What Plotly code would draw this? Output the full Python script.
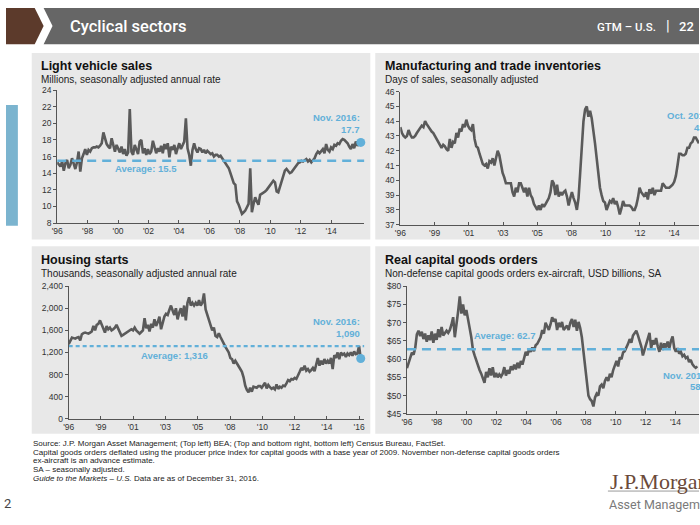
import numpy as np
import plotly.graph_objects as go

FONT = "Liberation Sans, Arial, sans-serif"
HEAD = "Roboto, Liberation Sans, sans-serif"
LINE_C = "#5a5a5a"
BLUE = "#62b0d9"

# ---------------- data ----------------
# Light vehicle sales, millions SAAR (sampled ~monthly, Jan '96 -> Nov '16)
lv_values = [15.3, 15.0, 14.8, 15.4, 14.3, 15.2, 15.6, 14.6, 15.0, 15.8, 15.1, 14.5, 15.3, 16.6, 14.2, 15.8,
             16.3, 16.9, 16.2, 16.8, 16.6, 17.0, 17.1, 17.1, 17.2, 17.1, 17.3, 17.6, 18.9, 18.2, 17.5, 17.2,
             17.0, 18.2, 17.3, 16.6, 17.4, 16.9, 16.5, 17.2, 16.3, 16.9, 16.1, 16.5, 21.7, 16.6, 16.2, 17.4,
             16.8, 16.3, 17.8, 18.0, 16.4, 17.0, 16.2, 16.9, 16.3, 16.6, 17.9, 17.2, 16.4, 17.0, 16.6, 17.3,
             16.4, 17.5, 16.9, 17.6, 15.9, 17.2, 16.8, 17.4, 16.3, 17.0, 17.6, 16.9, 17.3, 17.8, 20.6, 17.0,
             16.2, 14.9, 16.8, 17.6, 16.9, 16.5, 17.0, 16.9, 16.5, 16.8, 16.4, 16.7, 16.5, 16.3, 16.4, 16.0,
             16.2, 16.2, 16.0, 16.1, 15.8, 15.5, 15.2, 14.9, 14.6, 14.0, 13.5, 12.8, 12.6, 10.6, 10.2, 9.6,
             9.1, 9.3, 9.5, 9.9, 10.3, 14.6, 9.3, 10.3, 11.1, 10.6, 10.2, 11.4, 11.5, 11.6, 11.8, 12.0,
             12.3, 12.6, 12.9, 13.1, 12.9, 11.8, 11.7, 12.4, 12.9, 13.6, 14.3, 14.5, 14.3, 14.0, 14.1, 14.4,
             14.6, 14.9, 15.2, 15.3, 15.5, 15.4, 15.6, 15.7, 15.4, 15.6, 15.3, 15.5, 15.8, 16.3, 16.6, 16.4,
             16.7, 16.9, 16.4, 17.5, 16.8, 16.6, 17.1, 16.9, 17.4, 17.3, 17.6, 17.5, 17.9, 18.1, 18.0, 17.8,
             17.6, 17.2, 16.9, 17.5, 17.0, 17.8, 17.3, 17.6, 17.7]
lv_average = 15.5
lv_ticks = ["'96", "'98", "'00", "'02", "'04", "'06", "'08", "'10", "'12", "'14"]

# Manufacturing and trade inventories, days of sales
inv_values = [43.6, 43.2, 43.0, 42.9, 43.0, 43.4, 43.1, 42.9, 42.9, 43.0, 43.2, 43.4, 43.5, 43.7, 43.6, 44.0,
              43.8, 43.6, 43.5, 43.3, 43.2, 43.0, 42.8, 42.6, 42.5, 42.2, 42.4, 42.3, 42.1, 42.0, 42.8, 42.2,
              42.6, 42.5, 43.2, 42.9, 43.5, 43.3, 43.8, 43.6, 44.1, 43.7, 43.5, 43.4, 43.8, 42.8, 42.3, 42.2,
              41.8, 41.5, 41.1, 41.0, 41.1, 40.8, 41.3, 41.2, 41.5, 41.0, 41.5, 42.0, 41.7, 41.0, 40.5, 40.2,
              39.8, 39.8, 39.8, 39.8, 39.2, 38.9, 39.5, 39.2, 39.8, 39.8, 39.5, 39.2, 39.5, 38.9, 39.5, 39.0,
              38.8, 38.4, 38.2, 38.0, 38.3, 38.0, 38.4, 38.2, 38.4, 38.6, 38.8, 39.2, 40.0, 39.8, 39.0, 39.7,
              38.9, 39.2, 39.0, 39.2, 39.3, 38.9, 38.3, 38.8, 39.2, 38.8, 38.5, 38.0, 38.8, 40.5, 42.5, 44.0,
              44.8, 45.0, 44.3, 44.7, 44.2, 43.5, 42.5, 41.5, 40.5, 39.5, 39.0, 38.6, 38.5, 38.0, 38.3, 38.6,
              38.5, 38.8, 38.4, 38.6, 38.2, 37.7, 38.1, 38.6, 38.3, 38.3, 38.3, 38.3, 38.2, 38.0, 38.0, 38.3,
              38.8, 39.5, 39.2, 39.0, 38.9, 39.2, 38.7, 39.4, 39.1, 39.5, 39.0, 39.3, 39.3, 39.3, 39.3, 39.8,
              39.6, 39.5, 39.5, 39.5, 39.6, 39.7, 39.9, 40.3, 41.0, 41.8, 41.8, 41.7, 41.7, 41.8, 42.2, 42.2,
              42.5, 42.6, 42.9, 42.9, 42.7, 42.5]
inv_ticks = ["'96", "'99", "'01", "'03", "'05", "'08", "'10", "'12", "'14"]

# Housing starts, thousands SAAR
hs_values = [1350, 1420, 1470, 1460, 1450, 1470, 1480, 1420, 1530, 1550, 1560, 1550, 1540, 1560, 1580, 1680,
             1600, 1700, 1720, 1780, 1700, 1640, 1560, 1680, 1620, 1650, 1600, 1620, 1650, 1700, 1640, 1580,
             1500, 1520, 1540, 1560, 1580, 1600, 1620, 1600, 1650, 1600, 1560, 1540, 1570, 1600, 1820, 1640,
             1700, 1580, 1720, 1650, 1800, 1680, 1750, 1850, 1620, 1750, 1850, 1900, 1880, 1970, 2050, 1960,
             1880, 2000, 1800, 1920, 2000, 1850, 2050, 1780, 2100, 2200, 2050, 2100, 2050, 2100, 2050, 2150,
             2050, 2100, 2270, 1980, 1880, 1800, 1700, 1600, 1650, 1500, 1480, 1550, 1480, 1420, 1330, 1300,
             1250, 1200, 1100, 1080, 1000, 1050, 1000, 960, 900, 850, 750, 600, 520, 480, 560, 490,
             580, 570, 560, 590, 590, 560, 600, 650, 550, 610, 570, 540, 560, 530, 620, 540,
             580, 560, 600, 590, 640, 700, 680, 720, 710, 740, 720, 800, 850, 920, 880, 960,
             870, 900, 850, 880, 920, 860, 1000, 1100, 960, 1050, 980, 1080, 1000, 1050, 1000, 1100,
             900, 1150, 1100, 1200, 1080, 1200, 1160, 1180, 1120, 1180, 1150, 1200, 1140, 1220, 1170, 1180,
             1320, 1090]
hs_average = 1316
hs_ticks = ["'96", "'99", "'01", "'03", "'05", "'08", "'10", "'12", "'14", "'16"]

# Real capital goods orders, USD billions
cg_values = [57.5, 59.0, 61.0, 61.8, 61.2, 63.0, 66.8, 67.8, 66.3, 67.5, 65.5, 67.0, 64.8, 66.5, 65.2, 67.6,
             64.5, 67.0, 65.3, 68.2, 66.0, 68.8, 66.5, 67.3, 67.8, 67.2, 68.0, 69.5, 71.5, 66.0, 70.5, 73.0,
             77.2, 72.5, 75.0, 72.0, 73.5, 70.5, 68.5, 66.0, 62.5, 61.0, 59.5, 58.0, 57.0, 56.0, 55.0, 53.5,
             56.5, 55.0, 57.5, 55.5, 57.8, 55.0, 56.2, 55.0, 55.8, 55.2, 56.0, 57.8, 55.5, 57.0, 56.0, 58.0,
             57.0, 58.5, 57.2, 59.0, 57.5, 59.5, 58.5, 60.5, 62.0, 61.0, 62.8, 62.0, 63.2, 62.2, 63.8, 64.2,
             65.0, 66.0, 68.0, 67.0, 70.0, 68.8, 68.0, 69.5, 71.5, 70.3, 71.0, 68.0, 70.0, 68.8, 70.2, 68.0,
             68.5, 69.2, 68.0, 70.0, 71.0, 68.8, 70.8, 67.8, 70.2, 68.5, 66.0, 61.5, 59.0, 53.0, 50.0, 49.0,
             48.5, 47.0, 49.5, 50.5, 50.0, 52.5, 53.0, 52.0, 54.0, 55.0, 54.0, 56.0, 55.0, 57.0, 58.5, 59.5,
             58.0, 60.5, 60.0, 61.8, 62.2, 63.0, 64.2, 65.5, 64.5, 66.5, 67.0, 67.8, 66.5, 65.0, 63.5, 61.0,
             62.5, 64.0, 65.5, 67.2, 63.0, 65.2, 64.0, 65.8, 63.5, 62.0, 64.5, 62.5, 64.3, 63.2, 64.8, 63.0,
             65.0, 66.2, 63.0, 62.0, 63.0, 61.5, 62.0, 60.8, 61.2, 60.3, 60.6, 59.2, 59.8, 58.6, 58.0, 57.6,
             58.0]
cg_average = 62.7
cg_ticks = ["'96", "'98", "'00", "'02", "'04", "'06", "'08", "'10", "'12", "'14"]

footer_lines = [
    "Source: J.P. Morgan Asset Management; (Top left) BEA; (Top and bottom right, bottom left) Census Bureau, FactSet.",
    "Capital goods orders deflated using the producer price index for capital goods with a base year of 2009. November non-defense capital goods orders",
    "ex-aircraft is an advance estimate.",
    "SA – seasonally adjusted.",
    "<i>Guide to the Markets – U.S.</i> Data are as of December 31, 2016.",
]

# ---------------- layout helpers ----------------
W, H = 700, 525
def X(px):
    return px / W
def Y(py):
    return 1 - py / H

def time_axis(n, px_per_sample, px_per_year):
    step = px_per_sample / px_per_year
    return 1996 + np.arange(n) * step

lv_x = time_axis(len(lv_values), 5 / 3, 15.37)
inv_x = time_axis(len(inv_values), 5 / 3, 15.37)
hs_x = time_axis(len(hs_values), 5 / 3, 14.67)
cg_x = time_axis(len(cg_values), 5 / 3, 15.07)

fig = go.Figure()

def add_line(x, y, xa, ya):
    fig.add_trace(go.Scatter(x=x, y=y, mode="lines", line=dict(color=LINE_C, width=2.6),
                             xaxis=xa, yaxis=ya, hoverinfo="skip", showlegend=False))

def add_avg(x0, x1, val, xa, ya, dash, width):
    fig.add_trace(go.Scatter(x=[x0, x1], y=[val, val], mode="lines",
                             line=dict(color=BLUE, width=width, dash=dash),
                             xaxis=xa, yaxis=ya, hoverinfo="skip", showlegend=False))

def add_dot(x, y, xa, ya):
    fig.add_trace(go.Scatter(x=[x], y=[y], mode="markers", marker=dict(color=BLUE, size=9),
                             cliponaxis=False, xaxis=xa, yaxis=ya, hoverinfo="skip", showlegend=False))

# axis geometry (px)
lv_geo = dict(x0=51.7, x1=362, y0=222.3, y1=86.7, ppy=15.37, yr=[8, 24])
inv_geo = dict(x0=398.3, x1=700, y0=224.0, y1=88.3, ppy=15.37, yr=[37, 46])
hs_geo = dict(x0=63.3, x1=362, y0=421.7, y1=286.7, ppy=14.67, yr=[0, 2400])
cg_geo = dict(x0=405.0, x1=700, y0=416.7, y1=286.7, ppy=15.07, yr=[45, 80])

def xrange_of(g):
    return [1996, 1996 + (g["x1"] - g["x0"]) / g["ppy"]]

# traces
r = xrange_of(lv_geo)
add_line(lv_x, lv_values, "x", "y")
add_avg(r[0], r[1], lv_average, "x", "y", "9px,6px", 2.4)
add_dot(lv_x[-1], lv_values[-1], "x", "y")

r = xrange_of(inv_geo)
add_line(inv_x, inv_values, "x2", "y2")

r = xrange_of(hs_geo)
add_line(hs_x, hs_values, "x3", "y3")
add_avg(r[0], r[1], hs_average, "x3", "y3", "4px,3px", 2.2)
add_dot(hs_x[-1], hs_values[-1], "x3", "y3")

r = xrange_of(cg_geo)
add_line(cg_x, cg_values, "x4", "y4")
add_avg(r[0], r[1], cg_average, "x4", "y4", "9px,6px", 2.4)

tickfont = dict(size=8.5, color="#333333", family=FONT)

def xaxis_cfg(g, tickvals, ticktext, anchor):
    return dict(domain=[X(g["x0"]), X(g["x1"])], range=xrange_of(g), anchor=anchor,
                tickvals=tickvals, ticktext=ticktext, showgrid=False, zeroline=False,
                showline=True, linecolor="#555555", linewidth=1, ticks="inside", ticklen=3,
                tickcolor="#555555", tickfont=tickfont, fixedrange=True)

def yaxis_cfg(g, dtick, anchor, **kw):
    return dict(domain=[Y(g["y0"]), Y(g["y1"])], range=g["yr"], anchor=anchor, dtick=dtick,
                showgrid=False, zeroline=False, showline=True, linecolor="#555555", linewidth=1,
                ticks="outside", ticklen=3, tickcolor="#555555", tickfont=tickfont, fixedrange=True, **kw)

lv_tv = [1996 + 2 * k for k in range(len(lv_ticks))]
inv_tv = [1996 + 2.25 * k for k in range(len(inv_ticks))]
hs_tv = [1996 + (20 / 9) * k for k in range(len(hs_ticks))]
cg_tv = [1996 + 2 * k for k in range(len(cg_ticks))]

# ---------------- shapes ----------------
def rect(x0, y0, x1, y1, color):
    return dict(type="rect", xref="paper", yref="paper", x0=X(x0), x1=X(x1), y0=Y(y1), y1=Y(y0),
                fillcolor=color, line=dict(width=0), layer="below")

def path(points, color):
    d = "M " + " L ".join(f"{X(px):.5f},{Y(py):.5f}" for px, py in points) + " Z"
    return dict(type="path", xref="paper", yref="paper", path=d, fillcolor=color,
                line=dict(width=0), layer="below")

PANEL = "#e8e8e8"
shapes = [
    path([(0, 3), (29, 3), (38, 21.5), (29, 40), (0, 40)], "#5c3a2b"),
    path([(38, 3), (700, 3), (700, 40), (38, 40), (47, 21.5)], "#666666"),
    rect(0, 102, 12, 225, "#7bb4cf"),
    rect(26, 49, 368, 239, PANEL),
    rect(373, 49, 700, 239, PANEL),
    rect(26, 246, 368, 437, PANEL),
    rect(373, 246, 700, 437, PANEL),
    dict(type="line", xref="paper", yref="paper", x0=X(608), x1=X(700), y0=Y(495.5), y1=Y(495.5),
         line=dict(color="#9a9a9a", width=1)),
]

# ---------------- annotations ----------------
def txt(px, py, s, size, color, xanchor="left", family=FONT, bold=False, weight=None):
    f = dict(size=size, color=color, family=family)
    if weight:
        f["weight"] = weight
    return dict(x=X(px), y=Y(py), xref="paper", yref="paper", text=(f"<b>{s}</b>" if bold else s),
                showarrow=False, xanchor=xanchor, yanchor="middle", borderpad=0, font=f)

ann = [
    txt(64, 22, "Cyclical sectors", 16.5, "white", family=HEAD, weight=500),
    txt(596, 22, "GTM – U.S.", 11.5, "white", family=HEAD, weight=500),
    txt(666, 21, "|", 15, "white", family=HEAD),
    txt(679, 22, "22", 13, "white", family=HEAD, weight=500),
    # panel titles
    txt(34, 62.5, "Light vehicle sales", 12.5, "#111111", bold=True),
    txt(34, 75.5, "Millions, seasonally adjusted annual rate", 10, "#222222"),
    txt(382, 62.5, "Manufacturing and trade inventories", 12.5, "#111111", bold=True),
    txt(382, 75.5, "Days of sales, seasonally adjusted", 10, "#222222"),
    txt(34, 260, "Housing starts", 12.5, "#111111", bold=True),
    txt(34, 273.5, "Thousands, seasonally adjusted annual rate", 10, "#222222"),
    txt(382, 260, "Real capital goods orders", 12.5, "#111111", bold=True),
    txt(382, 273.5, "Non-defense capital goods orders ex-aircraft, USD billions, SA", 10, "#222222"),
    # callouts
    txt(141, 167, "Average: 15.5", 9.5, BLUE, xanchor="center", bold=True),
    txt(359, 115, "Nov. 2016:", 9.5, BLUE, xanchor="right", bold=True),
    txt(359, 127, "17.7", 9.5, BLUE, xanchor="right", bold=True),
    txt(170, 357, "Average: 1,316", 9.5, BLUE, xanchor="center", bold=True),
    txt(359, 323, "Nov. 2016:", 9.5, BLUE, xanchor="right", bold=True),
    txt(359, 335, "1,090", 9.5, BLUE, xanchor="right", bold=True),
    txt(667, 113, "Oct. 2016:", 9.5, BLUE, bold=True),
    txt(694, 125, "41.9", 9.5, BLUE, bold=True),
    txt(504, 337, "Average: 62.7", 9.5, BLUE, xanchor="center", bold=True),
    txt(663, 378, "Nov. 2016:", 9.5, BLUE, bold=True),
    txt(690, 389, "58.1", 9.5, BLUE, bold=True),
    # page number and logo
    txt(6, 508, "2", 13, "#444444", xanchor="right", family=HEAD),
    txt(609, 486, "J.P.Morgan", 22, "#6b4a3a", family="Liberation Serif, DejaVu Serif, serif"),
    txt(608, 509, "Asset Management", 12.5, "#7a7a7a", family=HEAD),
]
for i, line in enumerate(footer_lines):
    ann.append(txt(26, 447 + i * 8.8, line, 8.0, "#222222"))

fig.update_layout(
    width=W, height=H, margin=dict(l=0, r=0, t=0, b=0),
    paper_bgcolor="white", plot_bgcolor="rgba(0,0,0,0)",
    showlegend=False, shapes=shapes, annotations=ann,
    xaxis=xaxis_cfg(lv_geo, lv_tv, lv_ticks, "y"),
    yaxis=yaxis_cfg(lv_geo, 2, "x"),
    xaxis2=xaxis_cfg(inv_geo, inv_tv, inv_ticks, "y2"),
    yaxis2=yaxis_cfg(inv_geo, 1, "x2"),
    xaxis3=xaxis_cfg(hs_geo, hs_tv, hs_ticks, "y3"),
    yaxis3=yaxis_cfg(hs_geo, 400, "x3", tickformat=","),
    xaxis4=xaxis_cfg(cg_geo, cg_tv, cg_ticks, "y4"),
    yaxis4=yaxis_cfg(cg_geo, 5, "x4", tickprefix="$"),
)

fig.write_html("out.html")
